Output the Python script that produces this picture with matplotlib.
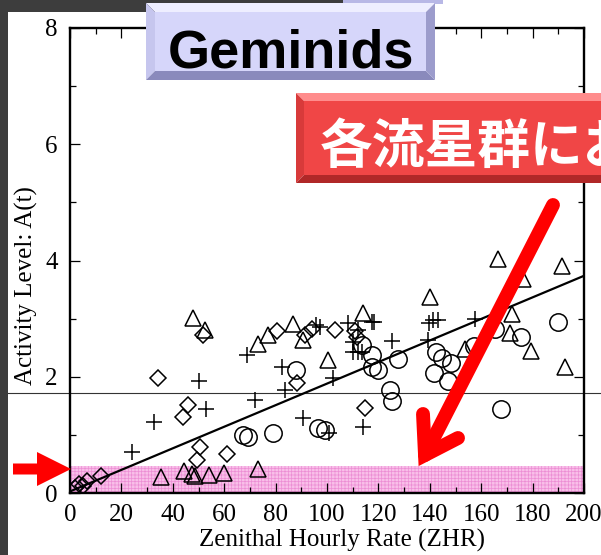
import matplotlib
matplotlib.use("Agg")
import matplotlib.pyplot as plt
from matplotlib import font_manager
from matplotlib.lines import Line2D
from matplotlib.patches import Polygon, Rectangle
from matplotlib.transforms import Affine2D
from matplotlib.ticker import MultipleLocator

# ---- observations: ZHR vs. activity level A(t) -------------------------
circle_zhr = [67.4, 69.4, 79.1, 96.6, 99.2, 87.9, 113.5, 117.4, 117.4, 120.0,
              127.5, 124.5, 125.2, 142.3, 144.6, 148.2, 141.6, 147.2, 157.3,
              165.4, 175.5, 189.8, 167.7]
circle_act = [1.00, 0.97, 1.04, 1.11, 1.08, 2.12, 2.55, 2.38, 2.17, 2.12,
              2.31, 1.77, 1.58, 2.43, 2.32, 2.24, 2.06, 1.93, 2.53,
              2.83, 2.68, 2.95, 1.44]

triangle_zhr = [48.0, 52.5, 35.4, 44.5, 47.3, 48.5, 54.1, 60.0, 73.3, 73.3,
                77.2, 86.6, 90.8, 100.5, 113.9, 140.1, 166.7, 191.3, 176.4,
                171.9, 171.2, 179.4, 192.6, 153.7]
triangle_act = [3.01, 2.81, 0.28, 0.38, 0.32, 0.30, 0.31, 0.35, 0.41, 2.56,
                2.72, 2.90, 2.63, 2.29, 3.09, 3.38, 4.02, 3.91, 3.68,
                3.08, 2.75, 2.45, 2.17, 2.47]

diamond_zhr = [2.0, 3.5, 5.0, 6.5, 12.0, 34.1, 46.0, 44.1, 51.9, 50.6, 49.3,
               61.0, 80.4, 91.4, 94.0, 103.1, 110.9, 111.5, 88.2, 114.8]
diamond_act = [0.08, 0.15, 0.12, 0.20, 0.29, 1.98, 1.51, 1.31, 2.71, 0.80,
               0.57, 0.67, 2.78, 2.72, 2.83, 2.81, 2.79, 2.68, 1.89, 1.46]

plus_zhr = [32.8, 24.0, 50.3, 53.0, 68.7, 71.8, 82.4, 83.6, 90.8, 102.5,
            100.9, 95.7, 97.3, 108.3, 110.2, 110.2, 112.2, 113.5, 117.4,
            118.4, 125.2, 114.1, 139.7, 141.3, 143.0, 139.4, 157.6, 112.0]
plus_act = [1.22, 0.71, 1.93, 1.44, 2.37, 1.60, 2.17, 1.77, 1.29, 1.97,
            1.03, 2.89, 2.86, 2.92, 2.60, 2.43, 2.42, 2.42, 2.95,
            2.95, 2.62, 1.14, 2.93, 2.98, 2.98, 2.63, 2.99, 2.80]

# linear fit A(t) = a + b * ZHR
fit_intercept = 0.027
fit_slope = 0.01855
fit_range = [0, 200]

reference_level = 1.72      # thin horizontal guide line
low_band_top = 0.47         # shaded low-activity band

x_ticks = [0, 20, 40, 60, 80, 100, 120, 140, 160, 180, 200]
y_ticks = [0, 2, 4, 6, 8]

title_text = "Geminids"
banner_text = "各流星群における"

# ---- figure -------------------------------------------------------------
plt.rcParams["font.family"] = ["Liberation Serif", "DejaVu Serif"]
plt.rcParams["hatch.linewidth"] = 0.5

W, H = 601, 555
fig = plt.figure(figsize=(W / 100, H / 100), dpi=100)
fig.patch.set_facecolor("white")

# pixel coordinates (origin top-left) for the decorations
pix = Affine2D().scale(1 / W, -1 / H).translate(0, 1) + fig.transFigure

ax = fig.add_axes([70 / W, 1 - 493 / H, 514 / W, 465 / H])
ax.set_xlim(0, 200)
ax.set_ylim(0, 8)

# shaded low band
ax.axhspan(0, low_band_top, facecolor="#f9bfe9", edgecolor="#ec8ed4",
           hatch="+++++", lw=0, zorder=1)

mk = dict(linestyle="none", markerfacecolor="none", markeredgecolor="black",
          markeredgewidth=1.1, zorder=3)
ax.plot(circle_zhr, circle_act, marker="o", markersize=12.5, **mk)
ax.plot(triangle_zhr, triangle_act, marker="^", markersize=11, **mk)
ax.plot(diamond_zhr, diamond_act, marker="D", markersize=8.6, **mk)
ax.plot(plus_zhr, plus_act, marker="+", markersize=11.5, linestyle="none",
        color="black", markeredgewidth=1.1, zorder=3)

fit_y = [fit_intercept + fit_slope * x for x in fit_range]
ax.plot(fit_range, fit_y, color="black", lw=1.6, zorder=4)

ax.axhline(reference_level, xmin=-0.1206, xmax=1.04, color="#333333",
           lw=0.8, clip_on=False, zorder=2)

ax.set_xticks(x_ticks)
ax.set_yticks(y_ticks)
ax.xaxis.set_minor_locator(MultipleLocator(10))
ax.yaxis.set_minor_locator(MultipleLocator(1))
ax.tick_params(which="both", direction="in", top=True, right=True,
               width=0.9, labelsize=18)
ax.tick_params(which="major", length=7)
ax.tick_params(which="minor", length=4)
ax.tick_params(axis="y", pad=9)
ax.tick_params(axis="x", pad=8)
for s in ax.spines.values():
    s.set_linewidth(1.7)

ax.set_xlabel("Zenithal Hourly Rate (ZHR)", fontsize=18, va="baseline")
ax.xaxis.set_label_coords(0.53, -0.116)
ax.set_ylabel("Activity Level: A(t)", fontsize=18, va="center", ha="center")
ax.yaxis.set_label_coords(-0.0856, 0.447)

# ---- page frame ---------------------------------------------------------
frame = "#3d3d3d"
fig.add_artist(Rectangle((0, 0), 8, H, transform=pix, color=frame, lw=0,
                         zorder=-1))
fig.add_artist(Rectangle((0, 0), 343, 12, transform=pix, color=frame, lw=0,
                         zorder=-1))
fig.add_artist(Rectangle((343, 0), 100, 4, transform=pix, color="#b8b8e6",
                         lw=0, zorder=-1))


def bevel_box(x0, y0, x1, y1, b, face, top, left, bottom, right):
    parts = [
        ([(x0, y0), (x1, y0), (x1 - b, y0 + b), (x0 + b, y0 + b)], top),
        ([(x0, y0), (x0 + b, y0 + b), (x0 + b, y1 - b), (x0, y1)], left),
        ([(x0, y1), (x0 + b, y1 - b), (x1 - b, y1 - b), (x1, y1)], bottom),
        ([(x1, y0), (x1 - b, y0 + b), (x1 - b, y1 - b), (x1, y1)], right),
        ([(x0 + b, y0 + b), (x1 - b, y0 + b), (x1 - b, y1 - b),
          (x0 + b, y1 - b)], face),
    ]
    for verts, c in parts:
        fig.add_artist(Polygon(verts, closed=True, transform=pix,
                               facecolor=c, edgecolor="none", zorder=10))


# title plate
bevel_box(146, 3, 435, 80, 9, "#d6d6fa", "#eeeeff", "#c6c6ee",
          "#8a8abc", "#9c9ccc")
names = {f.name for f in font_manager.fontManager.ttflist}
if "Liberation Sans Narrow" in names:
    tfam, tsize = ["Liberation Sans Narrow", "DejaVu Sans"], 47
else:
    tfam, tsize = ["Liberation Sans", "DejaVu Sans"], 39
fig.text(290.5, 67, title_text, transform=pix, family=tfam, weight="bold",
         fontsize=tsize, ha="center", va="baseline", color="black", zorder=11)

# red banner
bevel_box(296, 93, 612, 183, 8, "#f04646", "#ff8c8c", "#d83a3a",
          "#b02828", "#d83a3a")
fig.text(320, 163, banner_text, transform=pix,
         family=["Noto Sans CJK JP", "DejaVu Sans"], weight="bold",
         fontsize=38, ha="left", va="baseline", color="white", zorder=11)

# arrows
red = "#ff0000"
fig.add_artist(Polygon([(13, 463.5), (37, 463.5), (37, 452), (71, 469),
                        (37, 486), (37, 474.5), (13, 474.5)], closed=True,
                       transform=pix, facecolor=red, edgecolor="none",
                       zorder=10))
fig.add_artist(Line2D([553, 425], [205, 455], transform=pix, color=red,
                      lw=10, solid_capstyle="round", zorder=10))
fig.add_artist(Line2D([423, 425, 458], [414, 455, 438], transform=pix,
                      color=red, lw=10, solid_capstyle="round",
                      solid_joinstyle="miter", zorder=10))

fig.savefig("out.png", dpi=100)
